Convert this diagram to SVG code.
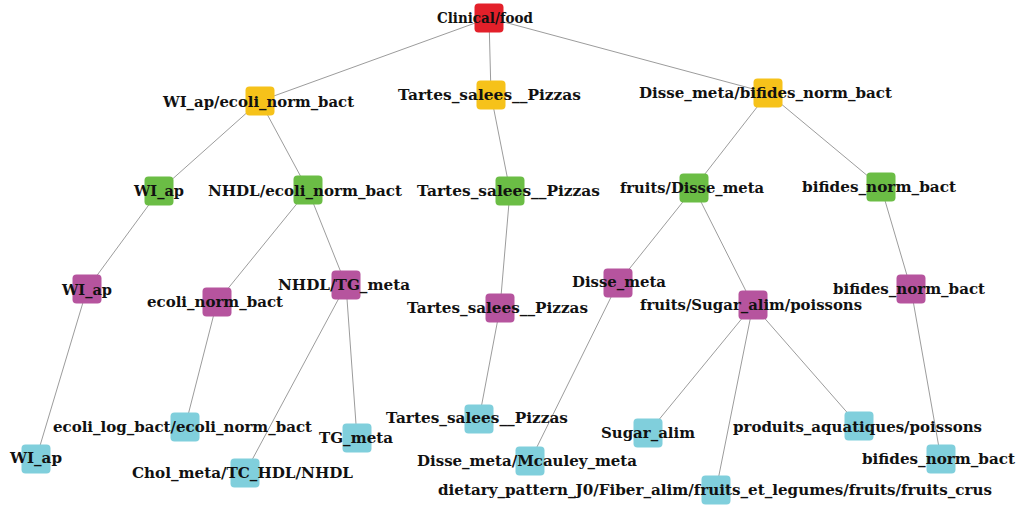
<svg xmlns="http://www.w3.org/2000/svg" width="1019" height="506" viewBox="0 0 1019 506">
<style>
.e{stroke:#9c9c9c;stroke-width:1;fill:none}
.red{fill:#e3202a}
.yel{fill:#f6c21a}
.grn{fill:#6bbd45}
.pur{fill:#b6549e}
.cya{fill:#80cfdc}
text{font-family:"DejaVu Serif","Liberation Serif",serif;font-weight:bold;font-size:15.5px;fill:#111}
</style>
<rect width="1019" height="506" fill="#ffffff"/>
<g id="connectors">
<line class="e" x1="489" y1="18" x2="260" y2="101"/>
<line class="e" x1="489" y1="18" x2="491" y2="95"/>
<line class="e" x1="489" y1="18" x2="768" y2="93"/>
<line class="e" x1="260" y1="101" x2="159" y2="191"/>
<line class="e" x1="260" y1="101" x2="308" y2="190"/>
<line class="e" x1="491" y1="95" x2="510" y2="191"/>
<line class="e" x1="768" y1="93" x2="694" y2="188"/>
<line class="e" x1="768" y1="93" x2="881" y2="187"/>
<line class="e" x1="159" y1="191" x2="87" y2="289"/>
<line class="e" x1="308" y1="190" x2="217" y2="302"/>
<line class="e" x1="308" y1="190" x2="346" y2="285"/>
<line class="e" x1="510" y1="191" x2="500" y2="308"/>
<line class="e" x1="694" y1="188" x2="618" y2="283"/>
<line class="e" x1="694" y1="188" x2="753" y2="305"/>
<line class="e" x1="881" y1="187" x2="911" y2="289"/>
<line class="e" x1="87" y1="289" x2="36" y2="459"/>
<line class="e" x1="217" y1="302" x2="185" y2="427"/>
<line class="e" x1="346" y1="285" x2="245" y2="473"/>
<line class="e" x1="346" y1="285" x2="357" y2="438"/>
<line class="e" x1="500" y1="308" x2="479" y2="419"/>
<line class="e" x1="618" y1="283" x2="530" y2="461"/>
<line class="e" x1="753" y1="305" x2="648" y2="433"/>
<line class="e" x1="753" y1="305" x2="716" y2="490"/>
<line class="e" x1="753" y1="305" x2="859" y2="426"/>
<line class="e" x1="911" y1="289" x2="941" y2="459"/>
</g>
<g id="n-root"><rect class="red" x="474.5" y="3.5" width="29" height="29" rx="4"/><text x="437" y="23" textLength="96" lengthAdjust="spacingAndGlyphs">Clinical/food</text></g>
<g id="n-y1"><rect class="yel" x="245.5" y="86.5" width="29" height="29" rx="4"/><text x="163" y="107" textLength="191" lengthAdjust="spacingAndGlyphs">WI_ap/ecoli_norm_bact</text></g>
<g id="n-y2"><rect class="yel" x="476.5" y="80.5" width="29" height="29" rx="4"/><text x="398" y="100" textLength="183" lengthAdjust="spacingAndGlyphs">Tartes_salees__Pizzas</text></g>
<g id="n-y3"><rect class="yel" x="753.5" y="78.5" width="29" height="29" rx="4"/><text x="639" y="98" textLength="253" lengthAdjust="spacingAndGlyphs">Disse_meta/bifides_norm_bact</text></g>
<g id="n-g1"><rect class="grn" x="144.5" y="176.5" width="29" height="29" rx="4"/><text x="134" y="196" textLength="50" lengthAdjust="spacingAndGlyphs">WI_ap</text></g>
<g id="n-g2"><rect class="grn" x="293.5" y="175.5" width="29" height="29" rx="4"/><text x="208" y="196" textLength="194" lengthAdjust="spacingAndGlyphs">NHDL/ecoli_norm_bact</text></g>
<g id="n-g3"><rect class="grn" x="495.5" y="176.5" width="29" height="29" rx="4"/><text x="417" y="196" textLength="183" lengthAdjust="spacingAndGlyphs">Tartes_salees__Pizzas</text></g>
<g id="n-g4"><rect class="grn" x="679.5" y="173.5" width="29" height="29" rx="4"/><text x="620" y="193" textLength="144" lengthAdjust="spacingAndGlyphs">fruits/Disse_meta</text></g>
<g id="n-g5"><rect class="grn" x="866.5" y="172.5" width="29" height="29" rx="4"/><text x="802" y="192" textLength="154" lengthAdjust="spacingAndGlyphs">bifides_norm_bact</text></g>
<g id="n-p1"><rect class="pur" x="72.5" y="274.5" width="29" height="29" rx="4"/><text x="62" y="295" textLength="50" lengthAdjust="spacingAndGlyphs">WI_ap</text></g>
<g id="n-p2"><rect class="pur" x="202.5" y="287.5" width="29" height="29" rx="4"/><text x="147" y="307" textLength="136" lengthAdjust="spacingAndGlyphs">ecoli_norm_bact</text></g>
<g id="n-p3"><rect class="pur" x="331.5" y="270.5" width="29" height="29" rx="4"/><text x="278" y="290" textLength="132" lengthAdjust="spacingAndGlyphs">NHDL/TG_meta</text></g>
<g id="n-p4"><rect class="pur" x="485.5" y="293.5" width="29" height="29" rx="4"/><text x="407" y="313" textLength="181" lengthAdjust="spacingAndGlyphs">Tartes_salees__Pizzas</text></g>
<g id="n-p5"><rect class="pur" x="603.5" y="268.5" width="29" height="29" rx="4"/><text x="572" y="287" textLength="94" lengthAdjust="spacingAndGlyphs">Disse_meta</text></g>
<g id="n-p6"><rect class="pur" x="738.5" y="290.5" width="29" height="29" rx="4"/><text x="640" y="310" textLength="222" lengthAdjust="spacingAndGlyphs">fruits/Sugar_alim/poissons</text></g>
<g id="n-p7"><rect class="pur" x="896.5" y="274.5" width="29" height="29" rx="4"/><text x="833" y="294" textLength="152" lengthAdjust="spacingAndGlyphs">bifides_norm_bact</text></g>
<g id="n-c1"><rect class="cya" x="21.5" y="444.5" width="29" height="29" rx="4"/><text x="10" y="463" textLength="52" lengthAdjust="spacingAndGlyphs">WI_ap</text></g>
<g id="n-c2"><rect class="cya" x="170.5" y="412.5" width="29" height="29" rx="4"/><text x="53" y="432" textLength="259" lengthAdjust="spacingAndGlyphs">ecoli_log_bact/ecoli_norm_bact</text></g>
<g id="n-c3"><rect class="cya" x="230.5" y="458.5" width="29" height="29" rx="4"/><text x="132" y="478" textLength="221" lengthAdjust="spacingAndGlyphs">Chol_meta/TC_HDL/NHDL</text></g>
<g id="n-c4"><rect class="cya" x="342.5" y="423.5" width="29" height="29" rx="4"/><text x="319" y="443" textLength="74" lengthAdjust="spacingAndGlyphs">TG_meta</text></g>
<g id="n-c5"><rect class="cya" x="464.5" y="404.5" width="29" height="29" rx="4"/><text x="386" y="423" textLength="182" lengthAdjust="spacingAndGlyphs">Tartes_salees__Pizzas</text></g>
<g id="n-c6"><rect class="cya" x="515.5" y="446.5" width="29" height="29" rx="4"/><text x="417" y="466" textLength="220" lengthAdjust="spacingAndGlyphs">Disse_meta/Mcauley_meta</text></g>
<g id="n-c7"><rect class="cya" x="633.5" y="418.5" width="29" height="29" rx="4"/><text x="601" y="438" textLength="94" lengthAdjust="spacingAndGlyphs">Sugar_alim</text></g>
<g id="n-c8"><rect class="cya" x="701.5" y="475.5" width="29" height="29" rx="4"/><text x="438" y="495" textLength="554" lengthAdjust="spacingAndGlyphs">dietary_pattern_J0/Fiber_alim/fruits_et_legumes/fruits/fruits_crus</text></g>
<g id="n-c9"><rect class="cya" x="844.5" y="411.5" width="29" height="29" rx="4"/><text x="733" y="432" textLength="249" lengthAdjust="spacingAndGlyphs">produits_aquatiques/poissons</text></g>
<g id="n-c10"><rect class="cya" x="926.5" y="444.5" width="29" height="29" rx="4"/><text x="862" y="464" textLength="153" lengthAdjust="spacingAndGlyphs">bifides_norm_bact</text></g>
</svg>
